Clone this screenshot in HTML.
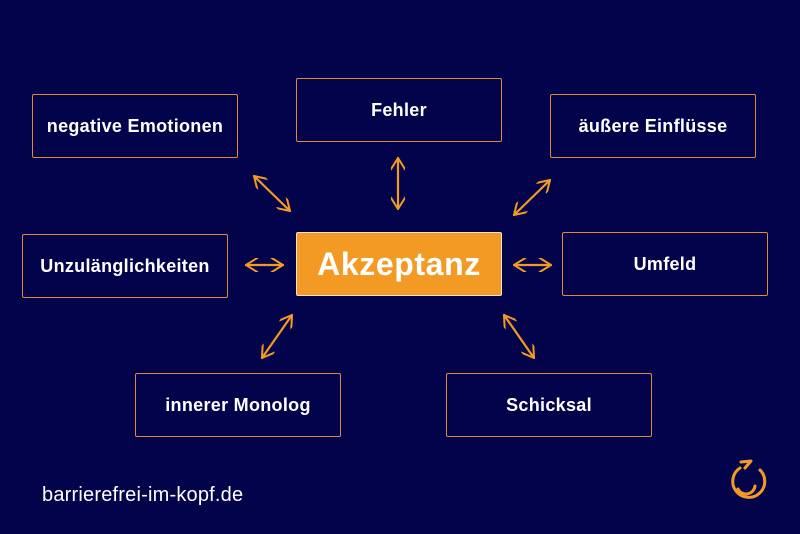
<!DOCTYPE html>
<html><head><meta charset="utf-8"><style>
body{margin:0;width:800px;height:534px;background:#03034c;overflow:hidden;position:relative;font-family:"Liberation Sans",sans-serif}
.b{position:absolute;width:206px;height:64px;border:1.5px solid #e0893a;border-radius:2px;color:#fff;font-weight:bold;font-size:18px;letter-spacing:0.3px;display:flex;align-items:center;justify-content:center;box-sizing:border-box}
.ft{position:absolute;left:42px;top:484px;color:#fff;font-size:20px;letter-spacing:0.2px}
</style></head><body>
<div class="b" style="left:32px;top:94px">negative Emotionen</div>
<div class="b" style="left:296px;top:78px">Fehler</div>
<div class="b" style="left:550px;top:94px">äußere Einflüsse</div>
<div class="b" style="left:22px;top:234px">Unzulänglichkeiten</div>
<div class="b" style="left:296px;top:232px;background:#f39a25;border-color:#f5e3cc;font-size:32px;letter-spacing:0.6px">Akzeptanz</div>
<div class="b" style="left:562px;top:232px">Umfeld</div>
<div class="b" style="left:135px;top:373px">innerer Monolog</div>
<div class="b" style="left:446px;top:373px">Schicksal</div>
<div class="ft">barrierefrei-im-kopf.de</div>
<svg width="800" height="534" style="position:absolute;left:0;top:0" fill="none" stroke="#f39a25" stroke-width="2.2" stroke-linecap="round" stroke-linejoin="round">
<defs><marker id="a" viewBox="0 0 10 10" refX="9" refY="5" markerWidth="6.5" markerHeight="6.5" orient="auto-start-reverse"><path d="M1 0L9 5L1 10" fill="none" stroke="#f39a25" stroke-width="1.4"/></marker></defs>
<g marker-start="url(#a)" marker-end="url(#a)">
<line x1="254" y1="176" x2="290" y2="211"/>
<line x1="398" y1="158" x2="398" y2="209"/>
<line x1="550" y1="180" x2="514" y2="215"/>
<line x1="246" y1="265" x2="283" y2="265"/>
<line x1="514" y1="265" x2="551" y2="265"/>
<line x1="292" y1="315" x2="262" y2="358"/>
<line x1="504" y1="315" x2="534" y2="358"/>
</g>
<path d="M740 468 A16 16 0 1 0 760 470" stroke-width="3"/>
<path d="M741 462 L751 461 L745 468" stroke-width="3"/>
<path d="M738 489 A9 9 0 0 0 755 486" stroke-width="3"/>
</svg>
</body></html>
